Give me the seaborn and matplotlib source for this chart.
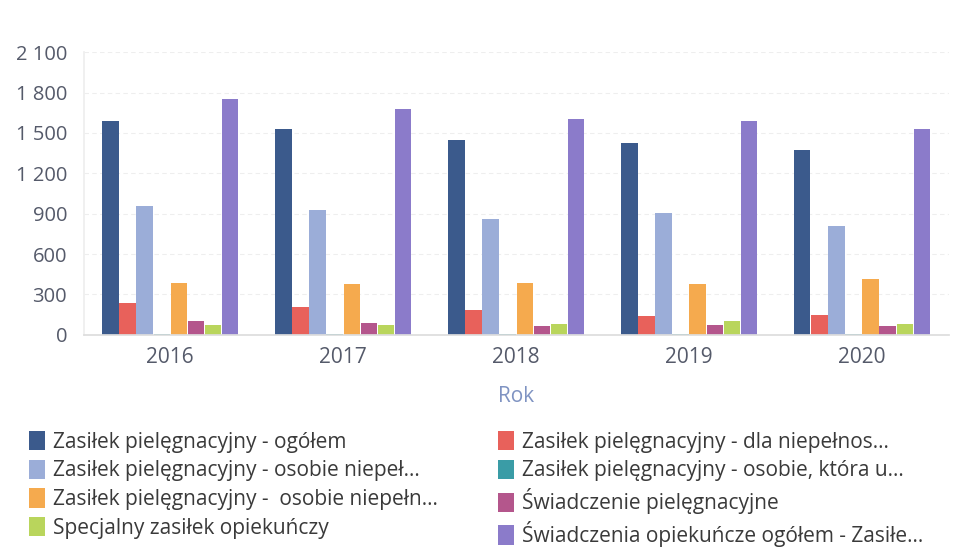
import numpy as np
import pandas as pd
import matplotlib
matplotlib.use("Agg")
import matplotlib.pyplot as plt
import seaborn as sns
from matplotlib.patches import Patch
from matplotlib.ticker import FuncFormatter

years = ["2016", "2017", "2018", "2019", "2020"]
series = [
    "Zasiłek pielęgnacyjny - ogółem",
    "Zasiłek pielęgnacyjny - dla niepełnos...",
    "Zasiłek pielęgnacyjny - osobie niepeł...",
    "Zasiłek pielęgnacyjny - osobie, która u...",
    "Zasiłek pielęgnacyjny -  osobie niepełn...",
    "Świadczenie pielęgnacyjne",
    "Specjalny zasiłek opiekuńczy",
    "Świadczenia opiekuńcze ogółem - Zasiłe...",
]
ogolem = [1585, 1530, 1445, 1425, 1372]
dla_niepelnos = [237, 205, 184, 137, 145]
osobie_niepel = [960, 925, 860, 904, 811]
osobie_ktora = [8, 6, 5, 5, 4]
osobie_niepeln = [388, 378, 382, 380, 415]
swiadczenie_piel = [100, 85, 65, 72, 66]
specjalny = [70, 70, 78, 100, 84]
swiadczenia_ogolem = [1755, 1680, 1605, 1585, 1530]

colors = ["#3b5a8c", "#e8615b", "#9badd8", "#3a9ca6", "#f5aa4e", "#b4568c", "#b9d55c", "#8b7bca"]

values = [ogolem, dla_niepelnos, osobie_niepel, osobie_ktora, osobie_niepeln,
          swiadczenie_piel, specjalny, swiadczenia_ogolem]
rows = []
for s, vals in zip(series, values):
    for y, v in zip(years, vals):
        rows.append({"Rok": y, "Seria": s, "Wartość": v})
df = pd.DataFrame(rows)

sns.set_theme(style="white")
plt.rcParams["font.family"] = ["Open Sans", "DejaVu Sans"]

fig = plt.figure(figsize=(9.63, 5.49), dpi=100)
ax = fig.add_axes([0.087, 0.39, 0.898, 0.515])

sns.barplot(data=df, x="Rok", y="Wartość", hue="Seria", hue_order=series,
            palette=colors, width=0.79, gap=0.04, ax=ax, legend=False,
            saturation=1, edgecolor="none")

ax.set_ylim(0, 2100)
ax.set_yticks(np.arange(0, 2101, 300))
ax.yaxis.set_major_formatter(FuncFormatter(lambda v, p: f"{int(v):,}".replace(",", " ")))
ax.grid(axis="y", color="#eeeeee", linewidth=0.8, linestyle=(0, (4, 3)))
ax.set_axisbelow(True)
for side in ["top", "right"]:
    ax.spines[side].set_visible(False)
ax.spines["left"].set_color("#eeeeee")
ax.spines["bottom"].set_color("#dddddd")
ax.tick_params(axis="y", labelsize=14.5, labelcolor="#555a6a", length=0, pad=12)
ax.tick_params(axis="x", labelsize=15, labelcolor="#555a6a", length=0, pad=9)
ax.set_ylabel("")
ax.set_xlabel("Rok", fontsize=15, color="#7f93c2", labelpad=13)

order = [0, 2, 4, 6, 1, 3, 5, 7]
handles = [Patch(facecolor=colors[i], edgecolor="none") for i in order]
labels = [series[i] for i in order]
fig.legend(handles, labels, ncol=2, loc="upper left", bbox_to_anchor=(0.021, 0.23),
           frameon=False, fontsize=15, labelcolor="#3a3a3a", handlelength=0.8,
           handleheight=1.05, handletextpad=0.35, columnspacing=2.9, labelspacing=0.33,
           borderaxespad=0)

fig.savefig("out.png", dpi=100, facecolor="white")
